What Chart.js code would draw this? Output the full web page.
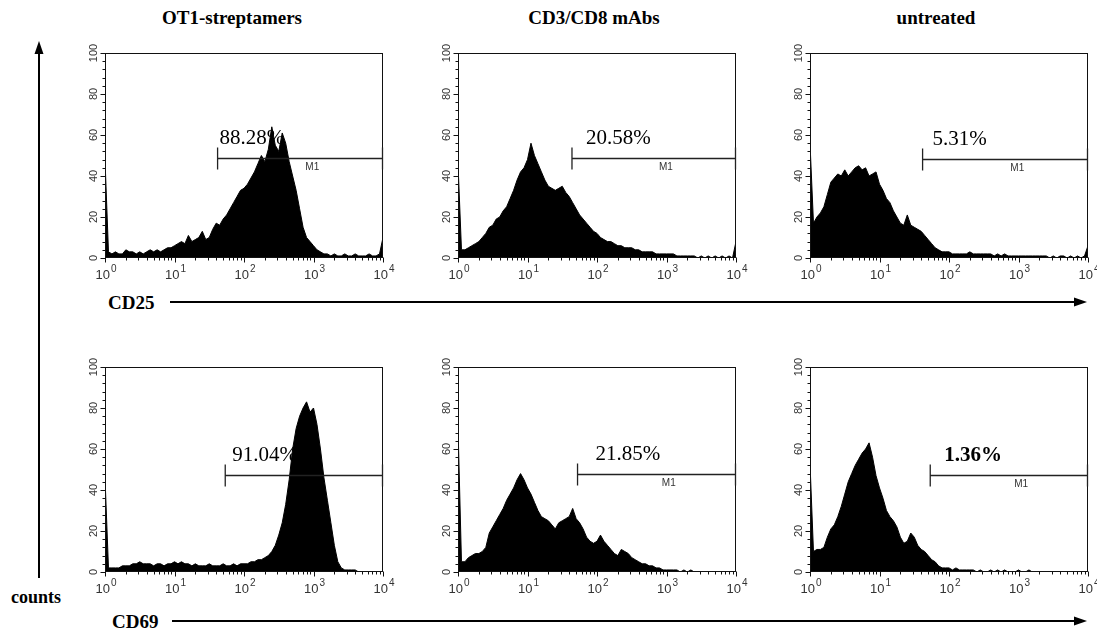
<!DOCTYPE html>
<html>
<head>
<meta charset="utf-8">
<script src="https://cdn.jsdelivr.net/npm/chart.js@4.4.1/dist/chart.umd.min.js"></script>
<style>
  body { margin: 0; background: #fff; width: 1097px; height: 632px; overflow: hidden; position: relative; font-family: "Liberation Serif", "Times New Roman", serif; }
  canvas.panel { position: absolute; }
  .title { position: absolute; top: 8px; font-weight: bold; font-size: 19px; line-height: 19px; transform: translateX(-50%); white-space: nowrap; }
  .lab { position: absolute; font-weight: bold; line-height: 1; white-space: nowrap; }
  svg { position: absolute; left: 0; top: 0; }
</style>
</head>
<body>
<div class="title" style="left:232px">OT1-streptamers</div>
<div class="title" style="left:594px">CD3/CD8 mAbs</div>
<div class="title" style="left:936px">untreated</div>
<div class="lab" style="left:108px; top:293px; font-size:19px">CD25</div>
<div class="lab" style="left:112px; top:612px; font-size:19px">CD69</div>
<div class="lab" style="left:11px; top:588px; font-size:18px">counts</div>
<svg width="1097" height="632">
  <line x1="39" y1="578" x2="39" y2="50" stroke="#000" stroke-width="2"/>
  <polygon points="39,41 34.5,54 43.5,54" fill="#000"/>
  <line x1="170" y1="302" x2="1078" y2="302" stroke="#000" stroke-width="2"/>
  <polygon points="1087,302 1074,297.5 1074,306.5" fill="#000"/>
  <line x1="172" y1="621" x2="1078" y2="621" stroke="#000" stroke-width="2"/>
  <polygon points="1087,621 1074,616.5 1074,625.5" fill="#000"/>
</svg>

<script>
// bin positions in decades (10^0 .. 10^4), 20 bins per decade
const channels = Array.from({ length: 81 }, (_, i) => i / 20);

// counts per bin
const cd25Streptamer = [48, 3, 2, 3, 2, 2, 4, 3, 3, 2, 3, 2, 3, 4, 3, 4, 3, 4, 5, 5,
  6, 7, 8, 7, 11, 8, 9, 10, 13, 9, 10, 14, 17, 16, 19, 21, 24, 27, 30, 33,
  34, 36, 39, 42, 46, 50, 47, 53, 64, 55, 52, 61, 56, 47, 40, 33, 24, 15, 10, 8,
  6, 4, 3, 2, 2, 1, 2, 1, 1, 2, 1, 1, 2, 1, 1, 1, 2, 1, 1, 2, 10];
const cd25Antibody = [46, 4, 4, 5, 6, 7, 8, 10, 12, 15, 16, 19, 20, 23, 25, 29, 33, 38, 42, 44,
  48, 56, 50, 46, 42, 38, 35, 34, 33, 34, 35, 32, 30, 27, 24, 21, 19, 17, 15, 13,
  12, 10, 9, 8, 8, 7, 6, 6, 5, 5, 5, 4, 4, 3, 3, 3, 3, 2, 2, 2,
  2, 2, 2, 1, 1, 1, 1, 1, 1, 0, 1, 0, 1, 0, 1, 0, 1, 0, 1, 0, 8];
const cd25Untreated = [56, 17, 20, 22, 25, 31, 37, 39, 41, 40, 43, 40, 42, 44, 45, 43, 44, 40, 41, 42,
  36, 33, 29, 27, 23, 20, 17, 16, 21, 16, 15, 14, 13, 11, 9, 7, 5, 4, 3, 3,
  3, 2, 2, 2, 2, 2, 3, 2, 2, 2, 2, 2, 2, 1, 2, 1, 2, 1, 1, 1,
  1, 1, 1, 1, 1, 1, 1, 1, 1, 0, 1, 0, 1, 1, 0, 1, 0, 1, 0, 1, 6];
const cd69Streptamer = [46, 2, 2, 2, 2, 3, 3, 3, 4, 4, 5, 4, 4, 4, 3, 4, 4, 3, 4, 4,
  5, 4, 5, 4, 4, 3, 4, 3, 3, 3, 4, 3, 3, 3, 4, 3, 3, 4, 3, 4,
  4, 4, 5, 5, 6, 6, 7, 8, 10, 13, 18, 24, 33, 45, 60, 70, 76, 80, 83, 78,
  80, 72, 60, 46, 35, 24, 13, 5, 2, 1, 1, 1, 1, 0, 0, 0, 0, 0, 0, 0, 0];
const cd69Antibody = [71, 5, 5, 7, 8, 9, 9, 10, 12, 19, 22, 25, 28, 31, 35, 38, 41, 45, 48, 45,
  41, 38, 34, 30, 27, 26, 25, 23, 21, 24, 25, 26, 27, 31, 26, 24, 21, 17, 15, 14,
  15, 18, 15, 13, 11, 9, 8, 11, 10, 9, 7, 6, 5, 4, 4, 3, 3, 2, 2, 1,
  1, 1, 1, 1, 0, 1, 0, 1, 0, 0, 0, 0, 0, 0, 0, 0, 0, 0, 0, 0, 0];
const cd69Untreated = [53, 10, 11, 11, 12, 17, 21, 23, 27, 32, 38, 44, 48, 52, 55, 58, 60, 63, 56, 47,
  41, 36, 30, 27, 25, 22, 17, 14, 15, 19, 17, 13, 11, 10, 8, 6, 5, 3, 2, 2,
  2, 1, 2, 1, 1, 1, 1, 1, 0, 1, 0, 0, 1, 0, 1, 0, 1, 0, 0, 0,
  1, 0, 0, 1, 0, 0, 0, 0, 0, 0, 0, 0, 0, 0, 0, 0, 0, 0, 0, 0, 0];

// M1 gate: start (decades), height (counts) and % positive
const gateStart = [1.62, 1.64, 1.62, 1.73, 1.72, 1.73];
const gateLevel = [49, 49, 48.5, 47.5, 48, 47.5];
const percentLabels = ['88.28%', '20.58%', '5.31%', '91.04%', '21.85%', '1.36%'];

const yTicks = [0, 20, 40, 60, 80, 100];
const xTicks = [0, 1, 2, 3, 4];

const histograms = [cd25Streptamer, cd25Antibody, cd25Untreated, cd69Streptamer, cd69Antibody, cd69Untreated];

// plot area placement on the page
const colLeft = [105, 458, 810];
const rowTop = [53, 367];
const plotW = 278, plotH = 205;
const pad = { left: 40, top: 22, right: 14, bottom: 30 };
const textShift = [2, 14, 10, 7, 18, 14];
const textWeight = ['', '', '', '', '', 'bold '];

const facsAxes = {
  id: 'facsAxes',
  beforeDatasetsDraw(chart, args, opts) {
    // M1 tag sits under the histogram, like the original plots
    const { ctx, chartArea: a, scales: { x, y } } = chart;
    const gx = x.getPixelForValue(opts.start);
    const gy = y.getPixelForValue(opts.level);
    ctx.save();
    ctx.fillStyle = '#333';
    ctx.font = '10px "Liberation Sans", Arial, sans-serif';
    ctx.textAlign = 'center';
    ctx.textBaseline = 'middle';
    ctx.fillText('M1', (gx + a.right) / 2 + 12, gy + 10);
    ctx.restore();
  },
  afterDatasetsDraw(chart, args, opts) {
    const { ctx, chartArea: a, scales: { x, y } } = chart;
    const L = Math.round(a.left) + 0.5, R = Math.round(a.right) - 0.5;
    const T = Math.round(a.top) + 0.5, B = Math.round(a.bottom) - 0.5;
    ctx.save();
    ctx.strokeStyle = '#111';
    ctx.lineWidth = 1;
    ctx.strokeRect(L, T, R - L, B - T);

    // y ticks, majors every 20, minors every 4
    ctx.beginPath();
    for (let v = 0; v <= 100; v += 4) {
      const py = Math.round(y.getPixelForValue(v)) + 0.5;
      const len = v % 20 === 0 ? 5 : 3;
      ctx.moveTo(L - len, py);
      ctx.lineTo(L, py);
    }
    // x ticks, log minors
    for (let d = 0; d < 4; d++) {
      for (let k = 2; k <= 9; k++) {
        const px = Math.round(x.getPixelForValue(d + Math.log10(k))) + 0.5;
        ctx.moveTo(px, B);
        ctx.lineTo(px, B + 3);
      }
    }
    xTicks.forEach(d => {
      const px = Math.round(x.getPixelForValue(d)) + 0.5;
      ctx.moveTo(px, B);
      ctx.lineTo(px, B + 5);
    });
    ctx.stroke();

    // y labels, rotated
    ctx.fillStyle = '#333';
    ctx.font = '11px "Liberation Sans", Arial, sans-serif';
    ctx.textAlign = 'center';
    ctx.textBaseline = 'middle';
    yTicks.forEach(v => {
      ctx.save();
      ctx.translate(L - 12, y.getPixelForValue(v));
      ctx.rotate(-Math.PI / 2);
      ctx.fillText(String(v), 0, 0);
      ctx.restore();
    });

    // x labels 10^n
    ctx.textBaseline = 'alphabetic';
    xTicks.forEach(d => {
      const px = x.getPixelForValue(d);
      ctx.font = '13px "Liberation Sans", Arial, sans-serif';
      ctx.textAlign = 'right';
      ctx.fillText('10', px + 5, B + 21);
      ctx.font = '10px "Liberation Sans", Arial, sans-serif';
      ctx.textAlign = 'left';
      ctx.fillText(String(d), px + 6, B + 14);
    });

    // M1 gate
    const gx = x.getPixelForValue(opts.start);
    const gy = Math.round(y.getPixelForValue(opts.level)) + 0.5;
    ctx.strokeStyle = '#222';
    ctx.lineWidth = 1.3;
    ctx.beginPath();
    ctx.moveTo(gx, gy); ctx.lineTo(R, gy);
    ctx.moveTo(gx, gy - 11); ctx.lineTo(gx, gy + 11);
    ctx.moveTo(R, gy - 11); ctx.lineTo(R, gy + 11);
    ctx.stroke();

    ctx.fillStyle = '#000';
    ctx.font = opts.weight + '21px "Liberation Serif", "Times New Roman", serif';
    ctx.textAlign = 'left';
    ctx.textBaseline = 'alphabetic';
    ctx.fillText(opts.label, gx + opts.shift, gy - 15);
    ctx.restore();
  }
};

histograms.forEach((counts, i) => {
  const col = i % 3, row = Math.floor(i / 3);
  const canvas = document.createElement('canvas');
  canvas.className = 'panel';
  canvas.width = pad.left + plotW + pad.right;
  canvas.height = pad.top + plotH + pad.bottom;
  canvas.style.left = (colLeft[col] - pad.left) + 'px';
  canvas.style.top = (rowTop[row] - pad.top) + 'px';
  document.body.appendChild(canvas);

  new Chart(canvas.getContext('2d'), {
    type: 'line',
    data: {
      datasets: [{
        data: channels.map((c, j) => ({ x: c, y: counts[j] })),
        borderColor: '#000',
        borderWidth: 1,
        backgroundColor: '#000',
        fill: 'origin',
        pointRadius: 0,
        tension: 0,
      }],
    },
    options: {
      responsive: false,
      animation: false,
      devicePixelRatio: 1,
      layout: { padding: pad },
      plugins: {
        legend: { display: false },
        tooltip: { enabled: false },
        facsAxes: {
          start: gateStart[i], level: gateLevel[i], label: percentLabels[i],
          shift: textShift[i], weight: textWeight[i],
        },
      },
      scales: {
        x: { type: 'linear', min: 0, max: 4, display: false },
        y: { min: 0, max: 100, display: false },
      },
    },
    plugins: [facsAxes],
  });
});
</script>
</body>
</html>
